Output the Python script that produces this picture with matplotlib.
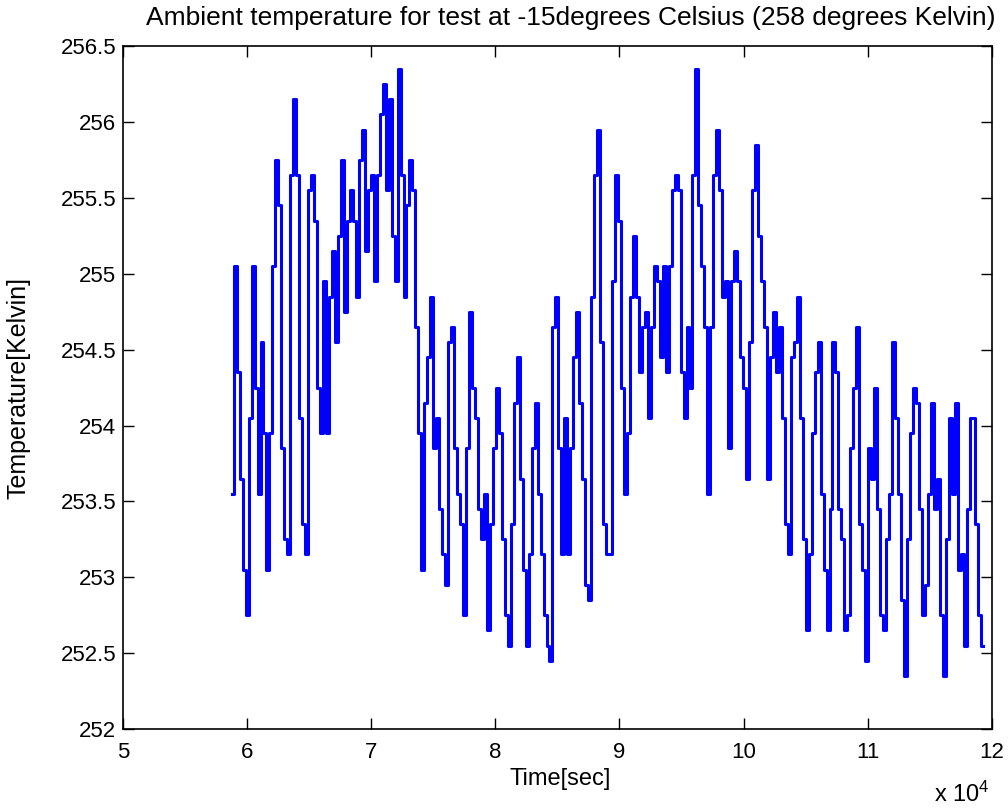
import numpy as np
import matplotlib
matplotlib.use("Agg")
import matplotlib.pyplot as plt
from matplotlib.ticker import FixedLocator, FuncFormatter

plt.rcParams['font.family'] = ['Liberation Sans', 'DejaVu Sans']
plt.rcParams['mathtext.default'] = 'regular'

# logger settings: first sample time and sample interval (s)
t_start = 58800
t_step = 240

# ambient temperature log (K), one value per sample
temp_k = [
    253.55, 255.05, 254.35, 253.65, 253.05, 252.75, 254.05, 255.05, 254.25, 253.55,
    254.55, 253.95, 253.05, 253.95, 255.05, 255.75, 255.45, 253.85, 253.25, 253.15,
    255.65, 256.15, 255.65, 254.05, 253.35, 253.15, 255.55, 255.65, 255.35, 254.25,
    253.95, 254.95, 253.95, 254.85, 255.15, 254.55, 255.25, 255.75, 254.75, 255.35,
    255.55, 255.35, 254.85,
    255.75, 255.95, 255.15, 255.55, 255.65, 254.95, 255.65, 256.05, 256.25, 255.55,
    256.15, 255.25, 254.95, 256.35, 255.65, 254.85, 255.45, 255.75, 255.55, 254.65,
    253.95, 253.05, 254.15, 254.45, 254.85, 253.85, 254.05, 253.45, 253.15, 252.95,
    254.55, 254.65, 253.85, 253.55, 253.35, 252.75, 253.85, 254.75, 254.25, 254.05,
    253.45, 253.25,
    253.55, 252.65, 253.35, 253.85, 254.25, 253.95, 253.25, 252.75, 252.55, 253.35,
    254.15, 254.45, 253.65, 253.05, 252.55, 253.15, 253.85, 254.15, 253.55, 253.15,
    252.75, 252.55, 252.45, 254.65, 254.85, 253.85, 253.15, 254.05, 253.15, 253.85,
    254.45, 254.75, 254.15, 253.65, 252.95, 252.85, 254.85, 255.65, 255.95, 254.55,
    253.35, 253.15,
    253.15, 254.95, 255.65, 255.35, 254.25, 253.55, 253.95, 254.85, 255.25, 254.85,
    254.35, 254.65, 254.75, 254.05, 254.65, 255.05, 254.95, 254.45, 255.05, 254.35,
    255.05, 255.55, 255.65, 255.55, 254.35, 254.05, 254.65, 254.25, 255.65, 256.35,
    255.45, 255.05, 254.65, 253.55, 254.65, 255.65, 255.95, 255.55, 254.85, 254.95,
    253.85, 254.95, 255.15,
    254.95, 254.45, 254.25, 253.65, 254.55, 255.55, 255.85, 255.25, 254.95, 254.65,
    253.65, 254.45, 254.75, 254.35, 254.65, 254.05, 253.35, 253.15, 254.45, 254.55,
    254.85, 254.05, 253.25, 252.65, 253.15, 253.95, 254.35, 254.55, 253.55, 253.05,
    252.65, 253.45, 254.55, 254.35, 253.45, 253.25, 252.65, 252.75, 253.85, 254.25,
    254.65, 253.35,
    253.05, 252.45, 253.85, 253.65, 254.25, 253.45, 252.75, 252.65, 253.25, 253.55,
    254.55, 254.05, 253.55, 252.85, 252.35, 253.25, 253.95, 254.25, 254.15, 253.45,
    252.75, 252.95, 253.55, 254.15, 253.45, 253.65, 252.75, 252.35, 253.25, 254.05,
    253.55, 254.15, 253.05, 253.15, 252.55, 253.45, 254.05, 254.05, 253.35, 252.75,
    252.55,
]

x_ticks = [50000, 60000, 70000, 80000, 90000, 100000, 110000, 120000]
y_ticks = [252, 252.5, 253, 253.5, 254, 254.5, 255, 255.5, 256, 256.5]
y_labels = ["252", "252.5", "253", "253.5", "254", "254.5", "255", "255.5", "256", "256.5"]

t_sec = t_start + t_step * np.arange(len(temp_k))

fig = plt.figure(figsize=(10.08, 8.10), dpi=100)
ax = fig.add_axes([0.122, 0.100, 0.862, 0.843])

# sample-and-hold trace
ax.plot(t_sec, temp_k, color=(0, 0, 1), lw=2.2, drawstyle="steps-mid")

ax.set_xlim(50000, 120000)
ax.set_ylim(252, 256.5)
ax.xaxis.set_major_locator(FixedLocator(x_ticks))
ax.xaxis.set_major_formatter(FuncFormatter(lambda v, p: "%g" % (v / 1e4)))
ax.set_yticks(y_ticks)
ax.set_yticklabels(y_labels)

ax.tick_params(direction="in", length=8, width=1, top=True, right=True,
               labelsize=16)
ax.tick_params(axis="x", pad=9)
ax.tick_params(axis="y", pad=5)
for s in ax.spines.values():
    s.set_linewidth(1.2)

# title and axis labels placed like the MATLAB export
fig.text(0.566, 0.978, "Ambient temperature for test at -15degrees Celsius (258 degrees Kelvin)",
         ha="center", va="center", fontsize=19)
fig.text(0.556, 0.038, "Time[sec]", ha="center", va="center", fontsize=17)
fig.text(0.018, 0.521, "Temperature[Kelvin]", ha="center", va="center",
         rotation=90, fontsize=18)
fig.text(0.982, 0.004, r"x 10$^{4}$", ha="right", va="bottom", fontsize=17)

fig.savefig("out.png", dpi=100)
